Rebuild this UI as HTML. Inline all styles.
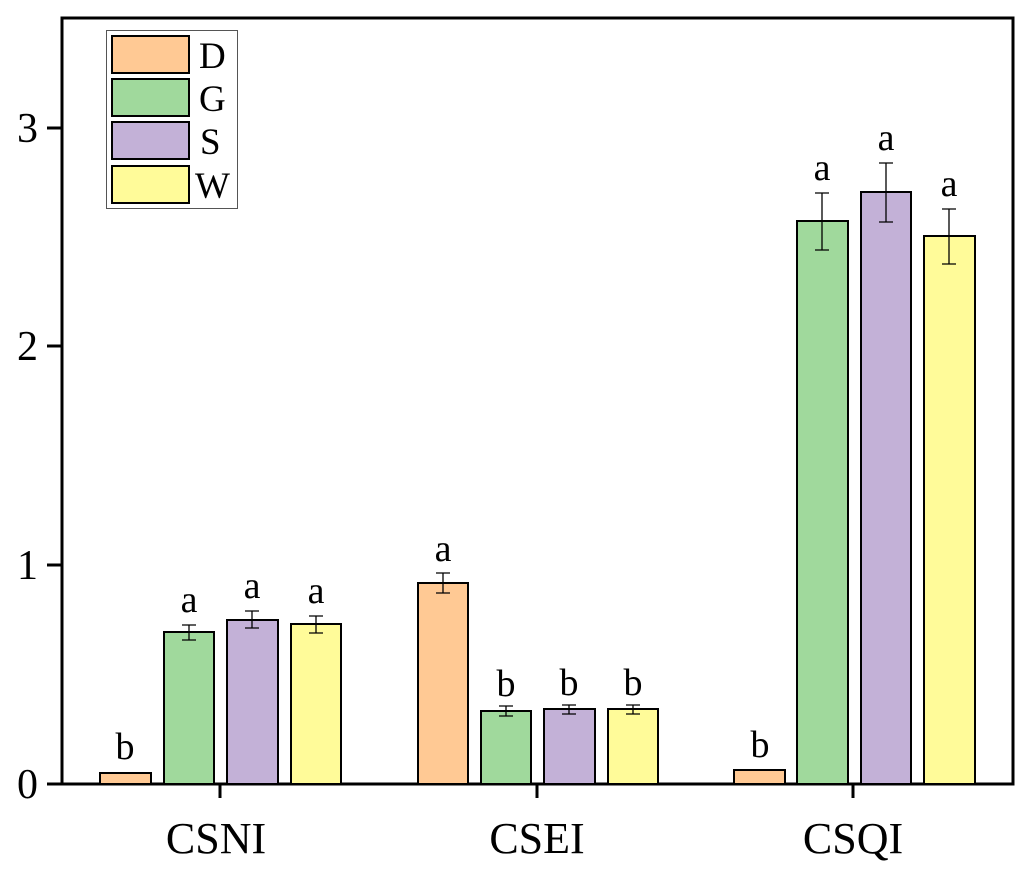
<!DOCTYPE html>
<html><head><style>body{margin:0;background:#fff}</style></head><body>
<svg width="1033" height="877" xmlns="http://www.w3.org/2000/svg" style="font-family:'Liberation Serif',serif">
<rect x="62" y="18" width="951" height="766" fill="none" stroke="#000" stroke-width="3"/>
<g stroke="#000" stroke-width="3">
<line x1="47" y1="784" x2="62" y2="784"/><line x1="47" y1="565" x2="62" y2="565"/><line x1="47" y1="346" x2="62" y2="346"/><line x1="47" y1="128" x2="62" y2="128"/>
<line x1="220" y1="784" x2="220" y2="798"/><line x1="537" y1="784" x2="537" y2="798"/><line x1="853" y1="784" x2="853" y2="798"/>
</g>
<g font-size="42" text-anchor="end"><text x="38" y="798">0</text><text x="38" y="579">1</text><text x="38" y="360">2</text><text x="38" y="142">3</text></g>
<g font-size="44" text-anchor="middle"><text x="216" y="853">CSNI</text><text x="537" y="853">CSEI</text><text x="853" y="853">CSQI</text></g>
<g stroke="#000" stroke-width="2">
<rect x="100" y="773" width="51" height="11" fill="#FFC994"/>
<rect x="164" y="632" width="50" height="152" fill="#A0D99C"/>
<rect x="227" y="620" width="51" height="164" fill="#C3B1D7"/>
<rect x="291" y="624" width="50" height="160" fill="#FFFB99"/>
<rect x="418" y="583" width="50" height="201" fill="#FFC994"/>
<rect x="481" y="711" width="50" height="73" fill="#A0D99C"/>
<rect x="544" y="709" width="51" height="75" fill="#C3B1D7"/>
<rect x="608" y="709" width="50" height="75" fill="#FFFB99"/>
<rect x="734" y="770" width="51" height="14" fill="#FFC994"/>
<rect x="797" y="221" width="51" height="563" fill="#A0D99C"/>
<rect x="861" y="192" width="50" height="592" fill="#C3B1D7"/>
<rect x="924" y="236" width="51" height="548" fill="#FFFB99"/>
</g>
<g stroke="#000" stroke-width="1.3" fill="none">
<path d="M189 625V640M182 625H196M182 640H196"/>
<path d="M252 611V628M245 611H259M245 628H259"/>
<path d="M316 616V633M309 616H323M309 633H323"/>
<path d="M443 573V593M436 573H450M436 593H450"/>
<path d="M506 706V716M499 706H513M499 716H513"/>
<path d="M569 705V714M562 705H576M562 714H576"/>
<path d="M633 705V714M626 705H640M626 714H640"/>
<path d="M822 193V250M815 193H829M815 250H829"/>
<path d="M886 163V222M879 163H893M879 222H893"/>
<path d="M949 209V264M942 209H956M942 264H956"/>
</g>
<g font-size="38" text-anchor="middle">
<text x="125" y="759">b</text><text x="189" y="612">a</text><text x="252" y="598">a</text><text x="316" y="603">a</text>
<text x="443" y="561">a</text><text x="506" y="696">b</text><text x="569" y="695">b</text><text x="633" y="695">b</text>
<text x="760" y="757">b</text><text x="822" y="180">a</text><text x="886" y="150">a</text><text x="949" y="196">a</text>
</g>
<rect x="106.5" y="30.5" width="131" height="178" fill="#fff" stroke="#555" stroke-width="1"/>
<g stroke="#000" stroke-width="2">
<rect x="112" y="36" width="77" height="37" fill="#FFC994"/>
<rect x="112" y="79" width="77" height="37" fill="#A0D99C"/>
<rect x="112" y="122" width="77" height="37" fill="#C3B1D7"/>
<rect x="112" y="166" width="77" height="37" fill="#FFFB99"/>
</g>
<g font-size="37"><text x="199" y="68">D</text><text x="199" y="111">G</text><text x="200" y="154">S</text><text x="195" y="198">W</text></g>
</svg>
</body></html>
